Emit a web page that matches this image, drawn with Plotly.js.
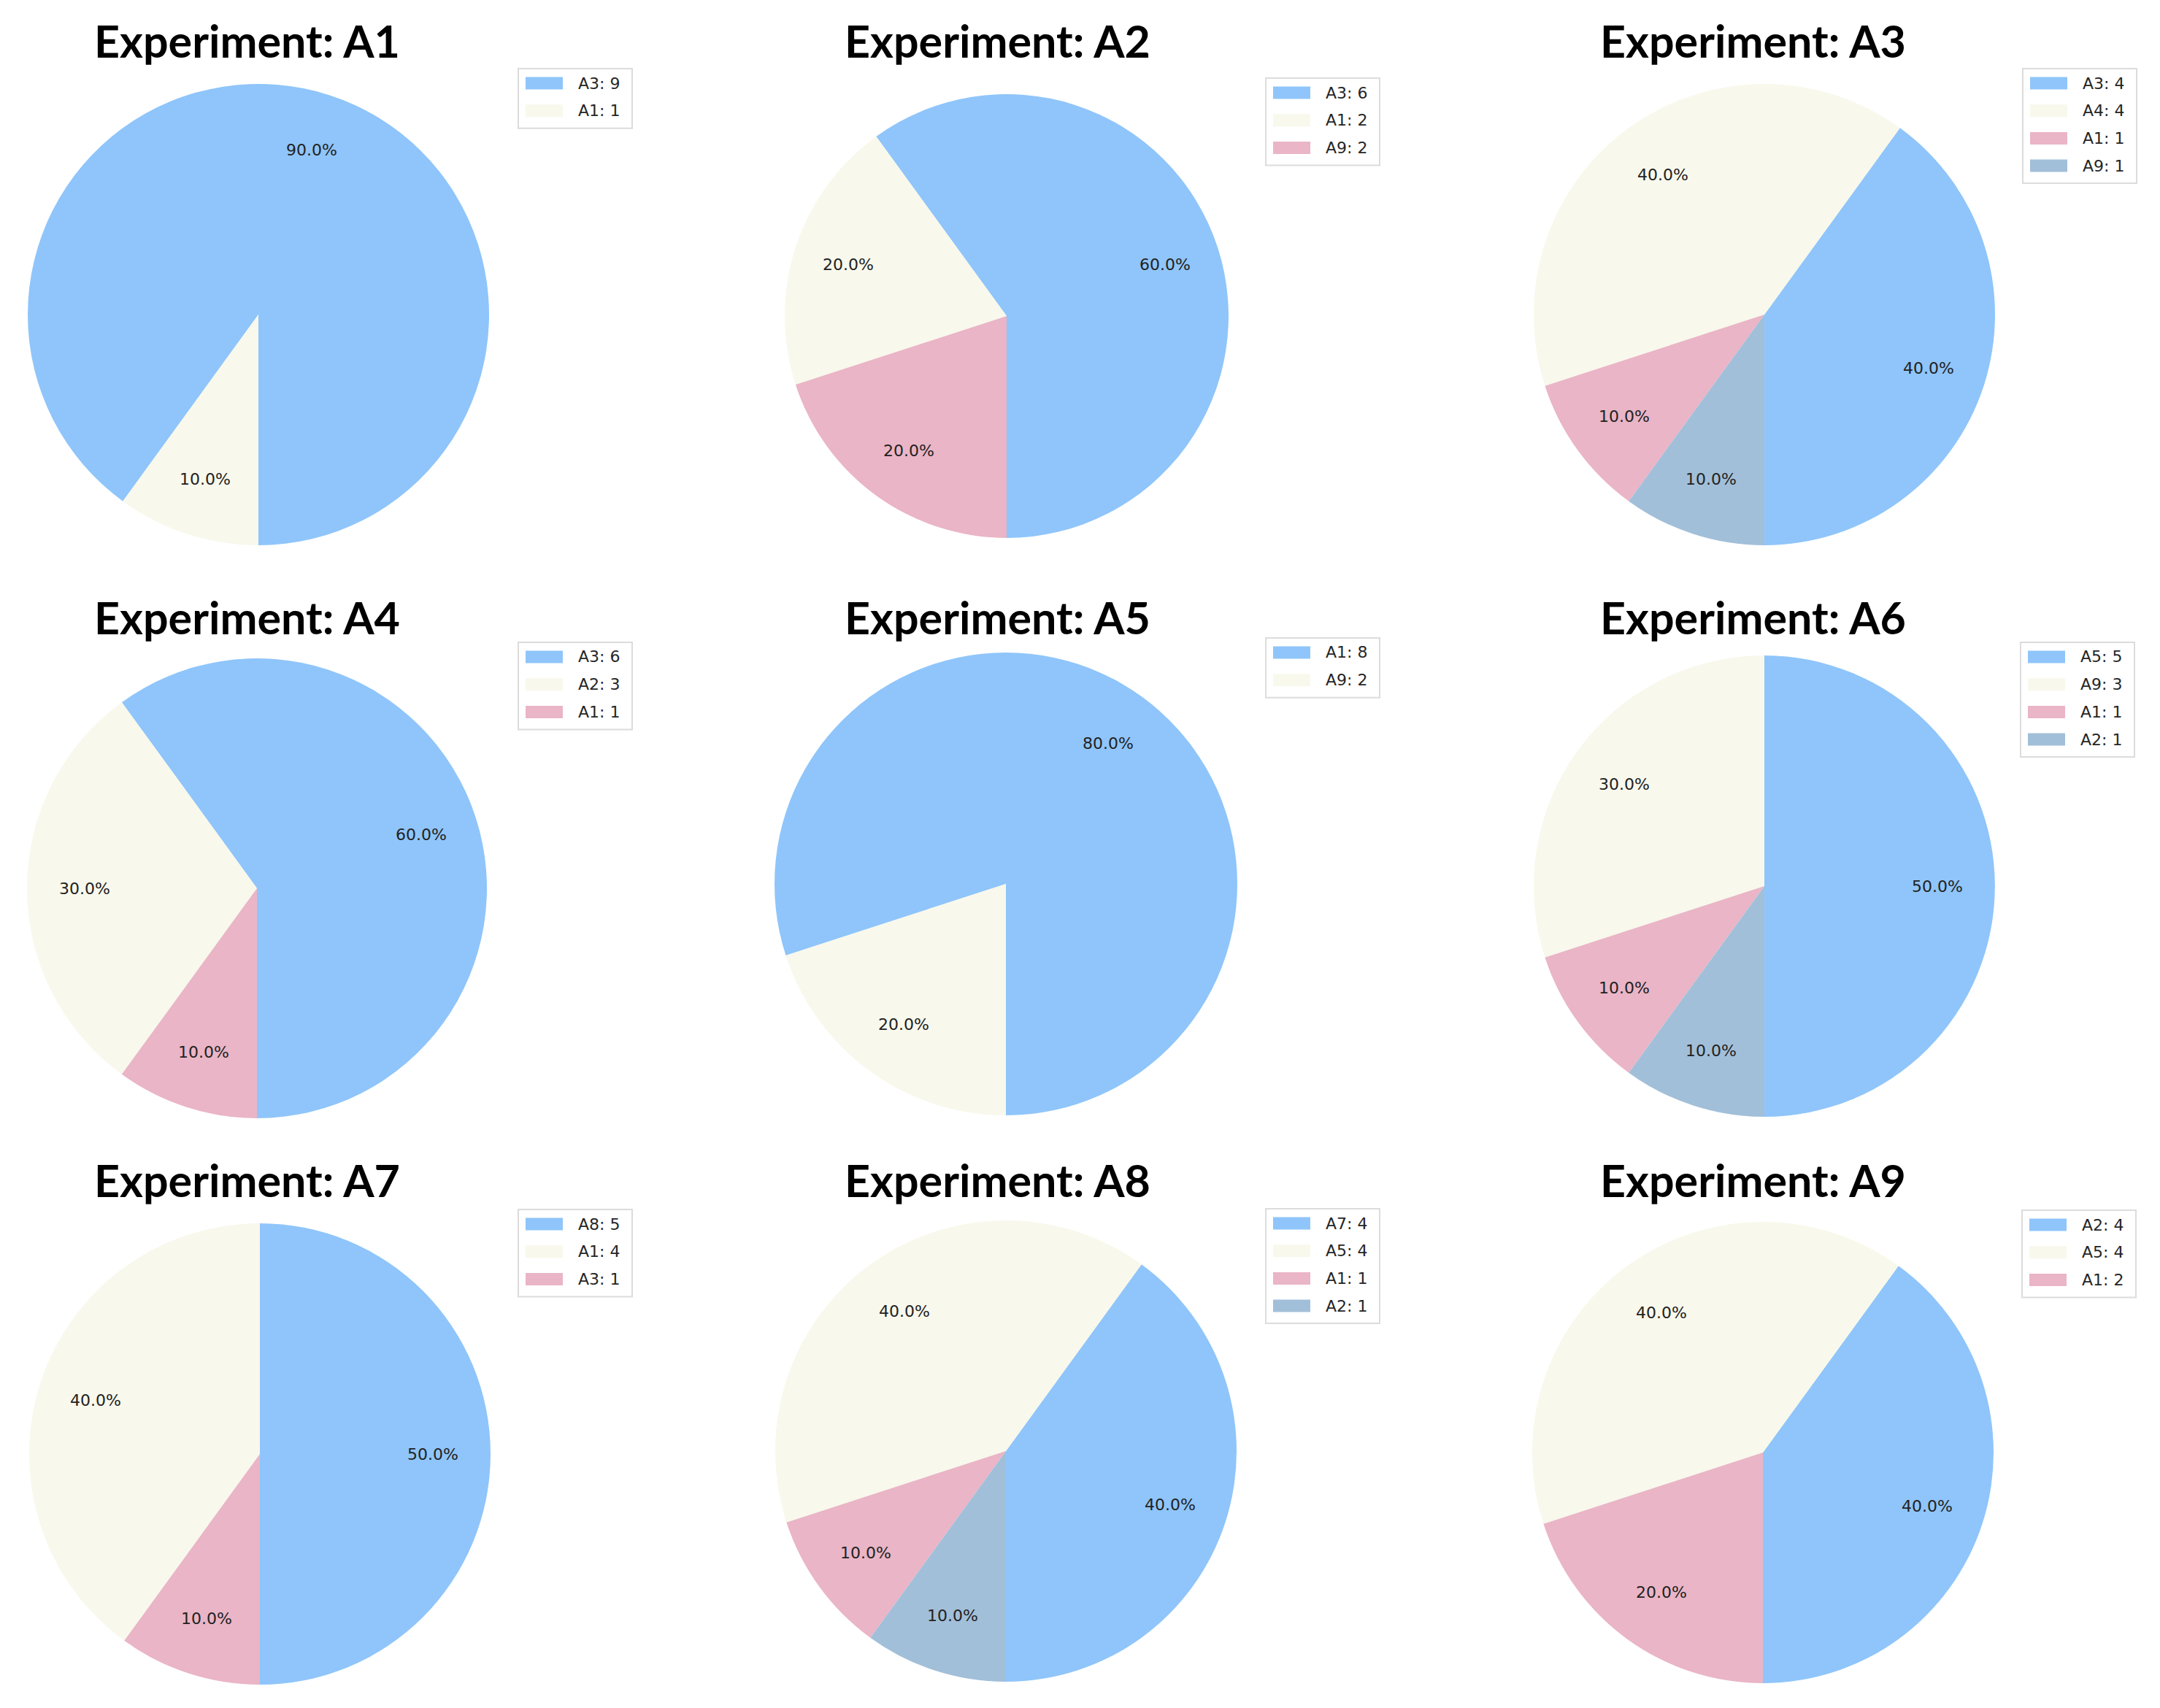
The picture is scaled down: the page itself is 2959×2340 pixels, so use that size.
<!DOCTYPE html>
<html>
<head>
<meta charset="utf-8">
<script src="https://cdn.plot.ly/plotly-3.0.1.min.js"></script>
<style>html,body{margin:0;padding:0;background:#ffffff;}</style>
</head>
<body>
<div id="chart" style="width:2959px;height:2340px;"></div>
<script>
// ---------------- data ----------------
const experiments = ['A1', 'A2', 'A3', 'A4', 'A5', 'A6', 'A7', 'A8', 'A9'];

const a1Labels = ['A3', 'A1'];             const a1Counts = [9, 1];
const a2Labels = ['A3', 'A1', 'A9'];       const a2Counts = [6, 2, 2];
const a3Labels = ['A3', 'A4', 'A1', 'A9']; const a3Counts = [4, 4, 1, 1];
const a4Labels = ['A3', 'A2', 'A1'];       const a4Counts = [6, 3, 1];
const a5Labels = ['A1', 'A9'];             const a5Counts = [8, 2];
const a6Labels = ['A5', 'A9', 'A1', 'A2']; const a6Counts = [5, 3, 1, 1];
const a7Labels = ['A8', 'A1', 'A3'];       const a7Counts = [5, 4, 1];
const a8Labels = ['A7', 'A5', 'A1', 'A2']; const a8Counts = [4, 4, 1, 1];
const a9Labels = ['A2', 'A5', 'A1'];       const a9Counts = [4, 4, 2];

const sliceColors = ['#8FC5FA', '#F8F8EC', '#EAB5C6', '#A2BFD9'];

const pieLabels = [a1Labels, a2Labels, a3Labels, a4Labels, a5Labels, a6Labels, a7Labels, a8Labels, a9Labels];
const pieCounts = [a1Counts, a2Counts, a3Counts, a4Counts, a5Counts, a6Counts, a7Counts, a8Counts, a9Counts];

// ---------------- layout geometry (pixels) ----------------
const W = 2959, H = 2340;
const panels = [
  {cx: 354,  cy: 431,  r: 316, tx: 338,  ty: 55,   lx: 710,  ly: 94},
  {cx: 1379, cy: 433,  r: 304, tx: 1366, ty: 55,   lx: 1734, ly: 107},
  {cx: 2417, cy: 431,  r: 316, tx: 2401, ty: 55,   lx: 2771, ly: 94},
  {cx: 352,  cy: 1217, r: 315, tx: 338,  ty: 845,  lx: 710,  ly: 880},
  {cx: 1378, cy: 1211, r: 317, tx: 1366, ty: 845,  lx: 1734, ly: 874},
  {cx: 2417, cy: 1214, r: 316, tx: 2401, ty: 845,  lx: 2768, ly: 880},
  {cx: 356,  cy: 1992, r: 316, tx: 338,  ty: 1616, lx: 710,  ly: 1657},
  {cx: 1378, cy: 1988, r: 316, tx: 1366, ty: 1616, lx: 1734, ly: 1656},
  {cx: 2415, cy: 1990, r: 316, tx: 2401, ty: 1616, lx: 2770, ly: 1658}
];
const pctDistance = 0.75;
const legendW = 156, legendStep = 37.7, legendFirst = 20, legendPadBottom = 24;
const swatchX = 10, swatchW = 51, swatchH = 17, legendTextX = 80;

const px = x => x / W;
const py = y => 1 - y / H;

const traces = [];
const annotations = [];
const shapes = [];

experiments.forEach((exp, i) => {
  const p = panels[i];
  const vals = pieCounts[i];
  const labs = pieLabels[i];
  const total = vals.reduce((a, b) => a + b, 0);
  const cols = sliceColors.slice(0, vals.length);

  // Slices run counterclockwise starting at 6 o'clock (matplotlib startangle=-90).
  // Plotly's counterclockwise mode keeps the first slice in its clockwise spot,
  // so the rotation is shifted by the first slice's share.
  const rot = 180 - 360 * vals[0] / total;

  traces.push({
    type: 'pie',
    name: 'Experiment: ' + exp,
    values: vals,
    labels: labs.map((l, j) => l + ': ' + vals[j]),
    sort: false,
    direction: 'counterclockwise',
    rotation: rot,
    marker: {colors: cols, line: {width: 0}},
    textinfo: 'none',
    hoverinfo: 'label+percent',
    showlegend: false,
    domain: {
      x: [px(p.cx - p.r), px(p.cx + p.r)],
      y: [py(p.cy + p.r), py(p.cy - p.r)]
    }
  });

  // title
  annotations.push({
    text: '<b>Experiment: ' + exp + '</b>',
    x: px(p.tx), y: py(p.ty), xref: 'paper', yref: 'paper',
    xanchor: 'center', yanchor: 'middle', showarrow: false,
    font: {family: 'Lato, "Open Sans", sans-serif', size: 61, color: '#000000'}
  });

  // percent labels (autopct at pctdistance, counterclockwise from 6 o'clock)
  let cum = 0;
  vals.forEach((v, j) => {
    const mid = (-90 + 360 * (cum + v / 2) / total) * Math.PI / 180;
    cum += v;
    const x = p.cx + pctDistance * p.r * Math.cos(mid);
    const y = p.cy - pctDistance * p.r * Math.sin(mid);
    annotations.push({
      text: (100 * v / total).toFixed(1) + '%',
      x: px(x), y: py(y), xref: 'paper', yref: 'paper',
      xanchor: 'center', yanchor: 'middle', showarrow: false,
      font: {family: '"DejaVu Sans", sans-serif', size: 22, color: '#222222'}
    });
  });

  // legend box
  const lh = legendFirst + (vals.length - 1) * legendStep + legendPadBottom;
  shapes.push({
    type: 'rect', xref: 'paper', yref: 'paper',
    x0: px(p.lx), x1: px(p.lx + legendW), y0: py(p.ly + lh), y1: py(p.ly),
    line: {color: '#dcdcdc', width: 2}, fillcolor: 'rgba(255,255,255,0.8)'
  });
  labs.forEach((l, j) => {
    const yc = p.ly + legendFirst + j * legendStep;
    shapes.push({
      type: 'rect', xref: 'paper', yref: 'paper',
      x0: px(p.lx + swatchX), x1: px(p.lx + swatchX + swatchW),
      y0: py(yc + swatchH / 2), y1: py(yc - swatchH / 2),
      line: {width: 0}, fillcolor: cols[j]
    });
    annotations.push({
      text: l + ': ' + vals[j],
      x: px(p.lx + legendTextX), y: py(yc), xref: 'paper', yref: 'paper',
      xanchor: 'left', yanchor: 'middle', showarrow: false,
      font: {family: '"DejaVu Sans", sans-serif', size: 22, color: '#262626'}
    });
  });
});

const layout = {
  width: W, height: H,
  margin: {l: 0, r: 0, t: 0, b: 0},
  paper_bgcolor: '#ffffff',
  plot_bgcolor: '#ffffff',
  showlegend: false,
  annotations: annotations,
  shapes: shapes
};

Plotly.newPlot('chart', traces, layout, {staticPlot: true, displayModeBar: false});
</script>
</body>
</html>
